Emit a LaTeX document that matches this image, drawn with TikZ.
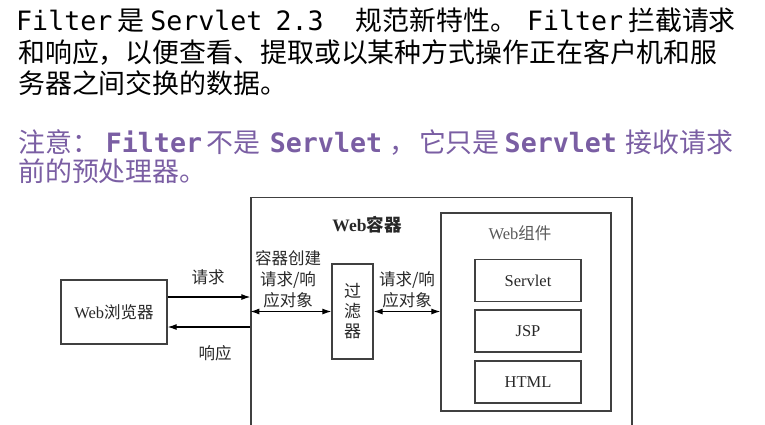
\documentclass[tikz,border=0pt]{standalone}
\usepackage{fontspec}
\setmainfont{Noto Sans CJK SC}
\newfontfamily\codefont[Scale=0.99]{DejaVu Sans Mono}
\newfontfamily\figlatin{Liberation Serif}
\usetikzlibrary{arrows.meta}
\definecolor{noteViolet}{RGB}{122, 94, 163}
\definecolor{lineGray}{RGB}{64, 64, 64}
\definecolor{textGray}{RGB}{40, 40, 40}

\begin{document}
\begin{tikzpicture}[x=1pt, y=-1pt,
    box/.style={draw=lineGray, line width=1.3pt, inner sep=0pt},
    link/.style={-{Latex[length=9pt,width=6pt]}, line width=1.1pt},
    twoway/.style={{Latex[length=9pt,width=6pt]}-{Latex[length=9pt,width=6pt]}, line width=1.1pt},
    bigtext/.style={anchor=base west, inner sep=0pt, font=\fontsize{26.9}{32}\selectfont},
    figtext/.style={text=textGray, align=center, inner sep=0pt, font=\fontsize{16.5}{21}\selectfont}]
      \useasboundingbox (0,0) rectangle (765,424);

      % Text above the picture
      \node[bigtext] (intro1) at (16,30) {{\codefont Filter}\hspace{5pt}是\hspace{6pt}{\codefont Servlet}\hspace{13pt}{\codefont 2.3}\hspace{32pt}规范新特性。\hspace{10pt}{\codefont Filter}\hspace{5pt}拦截请求};
      \node[bigtext] (intro2) at (18,62) {和响应，以便查看、提取或以某种方式操作正在客户机和服};
      \node[bigtext] (intro3) at (18,93) {务器之间交换的数据。};

      % Note
      \node[bigtext, text=noteViolet] (note1) at (18,152) {注意：\hspace{7pt}{\codefont\bfseries Filter}\hspace{4pt}不是\hspace{10pt}{\codefont\bfseries Servlet}\hspace{7pt}，\hspace{3pt}它只是\hspace{5pt}{\codefont\bfseries Servlet}\hspace{9pt}接收请求};
      \node[bigtext, text=noteViolet] (note2) at (18,181) {前的预处理器。};

      % Browser
      \node[box, figtext, minimum width=106, minimum height=64] (browser) at (114,312) {{\figlatin Web}浏览器};

      % Web container
      \node[box, minimum width=381, minimum height=240, anchor=north] (container) at (441.5,197) {};
      \node[figtext, font=\fontsize{17.5}{21}\bfseries] (containerTitle) at (367,225) {{\figlatin\bfseries Web}容器};

      % Filter
      \node[box, figtext, font=\fontsize{17}{20}\selectfont, minimum width=41, minimum height=95] (filter) at (352.5,311.5) {过\\滤\\器};

      % Web components
      \node[box, minimum width=170, minimum height=198] (webcomp) at (526,312) {};
      \node[figtext, text=black!65] (compTitle) at (520,233) {{\figlatin Web}组件};
      \node[box, figtext, minimum width=106, minimum height=42] (servlet) at (528,280.5) {\figlatin Servlet};
      \node[box, figtext, minimum width=106, minimum height=42] (jsp) at (528,331) {\figlatin JSP};
      \node[box, figtext, minimum width=106, minimum height=42] (html) at (528,382) {\figlatin HTML};

      % Request and response
      \draw[link] ([yshift=15pt]browser.east) -- ([yshift=15pt]browser.east -| container.west);
      \draw[link] ([yshift=-15pt]browser.east -| container.west) -- ([yshift=-15pt]browser.east);
      \node[figtext] (reqText) at (208,277) {请求};
      \node[figtext] (respText) at (215,353) {响应};

      % Objects passed on
      \draw[twoway] (filter.west -| container.west) -- (filter.west);
      \draw[twoway] (filter.east) -- (filter.east -| webcomp.west);
      \node[figtext] (createText) at (288,279) {容器创建\\请求/响\\应对象};
      \node[figtext] (passText) at (407,289.5) {请求/响\\应对象};
    \end{tikzpicture}
\end{document}
